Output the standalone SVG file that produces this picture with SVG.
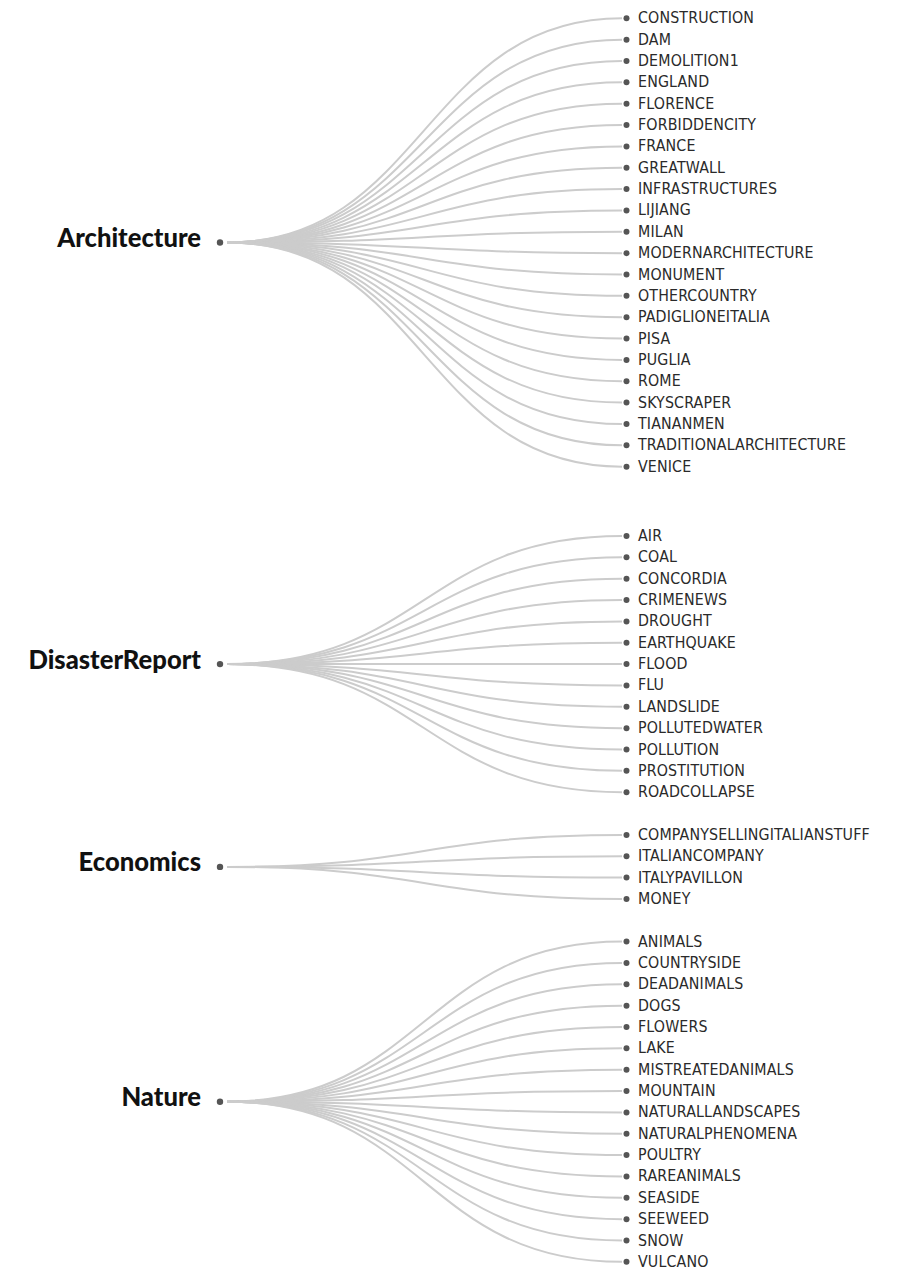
<svg xmlns="http://www.w3.org/2000/svg" width="898" height="1269" viewBox="0 0 898 1269">
<style>
  .link { fill: none; stroke: #cccccc; stroke-width: 2; }
  .dot { fill: #555555; }
  .root-label { font-family: Lato, "Open Sans", "Liberation Sans", sans-serif; font-weight: 900; font-size: 25.6px; fill: #111111; text-anchor: end; }
  .leaf-label { font-family: "DejaVu Sans Condensed", "Liberation Sans", sans-serif; font-size: 15.8px; fill: #2a2a2a; letter-spacing: 0.15px; }
</style>
<rect width="898" height="1269" fill="#ffffff"/>

<!-- connectors: cubic links from each category to its leaves -->
<g id="links">
  <!-- Architecture (root y 242.5) -->
  <path class="link" d="M227,242.5C424,242.5 424,18.3 622,18.3"/>
  <path class="link" d="M227,242.5C424,242.5 424,39.65 622,39.65"/>
  <path class="link" d="M227,242.5C424,242.5 424,61 622,61"/>
  <path class="link" d="M227,242.5C424,242.5 424,82.35 622,82.35"/>
  <path class="link" d="M227,242.5C424,242.5 424,103.7 622,103.7"/>
  <path class="link" d="M227,242.5C424,242.5 424,125.05 622,125.05"/>
  <path class="link" d="M227,242.5C424,242.5 424,146.4 622,146.4"/>
  <path class="link" d="M227,242.5C424,242.5 424,167.75 622,167.75"/>
  <path class="link" d="M227,242.5C424,242.5 424,189.1 622,189.1"/>
  <path class="link" d="M227,242.5C424,242.5 424,210.45 622,210.45"/>
  <path class="link" d="M227,242.5C424,242.5 424,231.8 622,231.8"/>
  <path class="link" d="M227,242.5C424,242.5 424,253.15 622,253.15"/>
  <path class="link" d="M227,242.5C424,242.5 424,274.5 622,274.5"/>
  <path class="link" d="M227,242.5C424,242.5 424,295.85 622,295.85"/>
  <path class="link" d="M227,242.5C424,242.5 424,317.2 622,317.2"/>
  <path class="link" d="M227,242.5C424,242.5 424,338.55 622,338.55"/>
  <path class="link" d="M227,242.5C424,242.5 424,359.9 622,359.9"/>
  <path class="link" d="M227,242.5C424,242.5 424,381.25 622,381.25"/>
  <path class="link" d="M227,242.5C424,242.5 424,402.6 622,402.6"/>
  <path class="link" d="M227,242.5C424,242.5 424,423.95 622,423.95"/>
  <path class="link" d="M227,242.5C424,242.5 424,445.3 622,445.3"/>
  <path class="link" d="M227,242.5C424,242.5 424,466.65 622,466.65"/>
  <!-- DisasterReport (root y 664.1) -->
  <path class="link" d="M227,664.1C424,664.1 424,536 622,536"/>
  <path class="link" d="M227,664.1C424,664.1 424,557.35 622,557.35"/>
  <path class="link" d="M227,664.1C424,664.1 424,578.7 622,578.7"/>
  <path class="link" d="M227,664.1C424,664.1 424,600.05 622,600.05"/>
  <path class="link" d="M227,664.1C424,664.1 424,621.4 622,621.4"/>
  <path class="link" d="M227,664.1C424,664.1 424,642.75 622,642.75"/>
  <path class="link" d="M227,664.1C424,664.1 424,664.1 622,664.1"/>
  <path class="link" d="M227,664.1C424,664.1 424,685.45 622,685.45"/>
  <path class="link" d="M227,664.1C424,664.1 424,706.8 622,706.8"/>
  <path class="link" d="M227,664.1C424,664.1 424,728.15 622,728.15"/>
  <path class="link" d="M227,664.1C424,664.1 424,749.5 622,749.5"/>
  <path class="link" d="M227,664.1C424,664.1 424,770.85 622,770.85"/>
  <path class="link" d="M227,664.1C424,664.1 424,792.2 622,792.2"/>
  <!-- Economics (root y 866.9) -->
  <path class="link" d="M227,866.9C424,866.9 424,834.9 622,834.9"/>
  <path class="link" d="M227,866.9C424,866.9 424,856.25 622,856.25"/>
  <path class="link" d="M227,866.9C424,866.9 424,877.6 622,877.6"/>
  <path class="link" d="M227,866.9C424,866.9 424,898.95 622,898.95"/>
  <!-- Nature (root y 1101.7) -->
  <path class="link" d="M227,1101.7C424,1101.7 424,941.6 622,941.6"/>
  <path class="link" d="M227,1101.7C424,1101.7 424,962.95 622,962.95"/>
  <path class="link" d="M227,1101.7C424,1101.7 424,984.3 622,984.3"/>
  <path class="link" d="M227,1101.7C424,1101.7 424,1005.65 622,1005.65"/>
  <path class="link" d="M227,1101.7C424,1101.7 424,1027 622,1027"/>
  <path class="link" d="M227,1101.7C424,1101.7 424,1048.35 622,1048.35"/>
  <path class="link" d="M227,1101.7C424,1101.7 424,1069.7 622,1069.7"/>
  <path class="link" d="M227,1101.7C424,1101.7 424,1091.05 622,1091.05"/>
  <path class="link" d="M227,1101.7C424,1101.7 424,1112.4 622,1112.4"/>
  <path class="link" d="M227,1101.7C424,1101.7 424,1133.75 622,1133.75"/>
  <path class="link" d="M227,1101.7C424,1101.7 424,1155.1 622,1155.1"/>
  <path class="link" d="M227,1101.7C424,1101.7 424,1176.45 622,1176.45"/>
  <path class="link" d="M227,1101.7C424,1101.7 424,1197.8 622,1197.8"/>
  <path class="link" d="M227,1101.7C424,1101.7 424,1219.15 622,1219.15"/>
  <path class="link" d="M227,1101.7C424,1101.7 424,1240.5 622,1240.5"/>
  <path class="link" d="M227,1101.7C424,1101.7 424,1261.85 622,1261.85"/>
</g>

<!-- category nodes -->
<g id="node-architecture"><circle class="dot" cx="220" cy="242.5" r="3.2"/><text class="root-label" x="201" y="247">Architecture</text></g>
<g id="node-disasterreport"><circle class="dot" cx="220" cy="664.1" r="3.2"/><text class="root-label" x="201" y="668.6">DisasterReport</text></g>
<g id="node-economics"><circle class="dot" cx="220" cy="866.9" r="3.2"/><text class="root-label" x="201" y="871.4">Economics</text></g>
<g id="node-nature"><circle class="dot" cx="220" cy="1101.7" r="3.2"/><text class="root-label" x="201" y="1106.2">Nature</text></g>

<!-- leaf nodes: Architecture -->
<g id="leaf-construction"><circle class="dot" cx="626.5" cy="18.3" r="3"/><text class="leaf-label" x="638" y="23.3">CONSTRUCTION</text></g>
<g id="leaf-dam"><circle class="dot" cx="626.5" cy="39.65" r="3"/><text class="leaf-label" x="638" y="44.65">DAM</text></g>
<g id="leaf-demolition1"><circle class="dot" cx="626.5" cy="61" r="3"/><text class="leaf-label" x="638" y="66">DEMOLITION1</text></g>
<g id="leaf-england"><circle class="dot" cx="626.5" cy="82.35" r="3"/><text class="leaf-label" x="638" y="87.35">ENGLAND</text></g>
<g id="leaf-florence"><circle class="dot" cx="626.5" cy="103.7" r="3"/><text class="leaf-label" x="638" y="108.7">FLORENCE</text></g>
<g id="leaf-forbiddencity"><circle class="dot" cx="626.5" cy="125.05" r="3"/><text class="leaf-label" x="638" y="130.05">FORBIDDENCITY</text></g>
<g id="leaf-france"><circle class="dot" cx="626.5" cy="146.4" r="3"/><text class="leaf-label" x="638" y="151.4">FRANCE</text></g>
<g id="leaf-greatwall"><circle class="dot" cx="626.5" cy="167.75" r="3"/><text class="leaf-label" x="638" y="172.75">GREATWALL</text></g>
<g id="leaf-infrastructures"><circle class="dot" cx="626.5" cy="189.1" r="3"/><text class="leaf-label" x="638" y="194.1">INFRASTRUCTURES</text></g>
<g id="leaf-lijiang"><circle class="dot" cx="626.5" cy="210.45" r="3"/><text class="leaf-label" x="638" y="215.45">LIJIANG</text></g>
<g id="leaf-milan"><circle class="dot" cx="626.5" cy="231.8" r="3"/><text class="leaf-label" x="638" y="236.8">MILAN</text></g>
<g id="leaf-modernarchitecture"><circle class="dot" cx="626.5" cy="253.15" r="3"/><text class="leaf-label" x="638" y="258.15">MODERNARCHITECTURE</text></g>
<g id="leaf-monument"><circle class="dot" cx="626.5" cy="274.5" r="3"/><text class="leaf-label" x="638" y="279.5">MONUMENT</text></g>
<g id="leaf-othercountry"><circle class="dot" cx="626.5" cy="295.85" r="3"/><text class="leaf-label" x="638" y="300.85">OTHERCOUNTRY</text></g>
<g id="leaf-padiglioneitalia"><circle class="dot" cx="626.5" cy="317.2" r="3"/><text class="leaf-label" x="638" y="322.2">PADIGLIONEITALIA</text></g>
<g id="leaf-pisa"><circle class="dot" cx="626.5" cy="338.55" r="3"/><text class="leaf-label" x="638" y="343.55">PISA</text></g>
<g id="leaf-puglia"><circle class="dot" cx="626.5" cy="359.9" r="3"/><text class="leaf-label" x="638" y="364.9">PUGLIA</text></g>
<g id="leaf-rome"><circle class="dot" cx="626.5" cy="381.25" r="3"/><text class="leaf-label" x="638" y="386.25">ROME</text></g>
<g id="leaf-skyscraper"><circle class="dot" cx="626.5" cy="402.6" r="3"/><text class="leaf-label" x="638" y="407.6">SKYSCRAPER</text></g>
<g id="leaf-tiananmen"><circle class="dot" cx="626.5" cy="423.95" r="3"/><text class="leaf-label" x="638" y="428.95">TIANANMEN</text></g>
<g id="leaf-traditionalarchitecture"><circle class="dot" cx="626.5" cy="445.3" r="3"/><text class="leaf-label" x="638" y="450.3">TRADITIONALARCHITECTURE</text></g>
<g id="leaf-venice"><circle class="dot" cx="626.5" cy="466.65" r="3"/><text class="leaf-label" x="638" y="471.65">VENICE</text></g>

<!-- leaf nodes: DisasterReport -->
<g id="leaf-air"><circle class="dot" cx="626.5" cy="536" r="3"/><text class="leaf-label" x="638" y="541">AIR</text></g>
<g id="leaf-coal"><circle class="dot" cx="626.5" cy="557.35" r="3"/><text class="leaf-label" x="638" y="562.35">COAL</text></g>
<g id="leaf-concordia"><circle class="dot" cx="626.5" cy="578.7" r="3"/><text class="leaf-label" x="638" y="583.7">CONCORDIA</text></g>
<g id="leaf-crimenews"><circle class="dot" cx="626.5" cy="600.05" r="3"/><text class="leaf-label" x="638" y="605.05">CRIMENEWS</text></g>
<g id="leaf-drought"><circle class="dot" cx="626.5" cy="621.4" r="3"/><text class="leaf-label" x="638" y="626.4">DROUGHT</text></g>
<g id="leaf-earthquake"><circle class="dot" cx="626.5" cy="642.75" r="3"/><text class="leaf-label" x="638" y="647.75">EARTHQUAKE</text></g>
<g id="leaf-flood"><circle class="dot" cx="626.5" cy="664.1" r="3"/><text class="leaf-label" x="638" y="669.1">FLOOD</text></g>
<g id="leaf-flu"><circle class="dot" cx="626.5" cy="685.45" r="3"/><text class="leaf-label" x="638" y="690.45">FLU</text></g>
<g id="leaf-landslide"><circle class="dot" cx="626.5" cy="706.8" r="3"/><text class="leaf-label" x="638" y="711.8">LANDSLIDE</text></g>
<g id="leaf-pollutedwater"><circle class="dot" cx="626.5" cy="728.15" r="3"/><text class="leaf-label" x="638" y="733.15">POLLUTEDWATER</text></g>
<g id="leaf-pollution"><circle class="dot" cx="626.5" cy="749.5" r="3"/><text class="leaf-label" x="638" y="754.5">POLLUTION</text></g>
<g id="leaf-prostitution"><circle class="dot" cx="626.5" cy="770.85" r="3"/><text class="leaf-label" x="638" y="775.85">PROSTITUTION</text></g>
<g id="leaf-roadcollapse"><circle class="dot" cx="626.5" cy="792.2" r="3"/><text class="leaf-label" x="638" y="797.2">ROADCOLLAPSE</text></g>

<!-- leaf nodes: Economics -->
<g id="leaf-companysellingitalianstuff"><circle class="dot" cx="626.5" cy="834.9" r="3"/><text class="leaf-label" x="638" y="839.9">COMPANYSELLINGITALIANSTUFF</text></g>
<g id="leaf-italiancompany"><circle class="dot" cx="626.5" cy="856.25" r="3"/><text class="leaf-label" x="638" y="861.25">ITALIANCOMPANY</text></g>
<g id="leaf-italypavillon"><circle class="dot" cx="626.5" cy="877.6" r="3"/><text class="leaf-label" x="638" y="882.6">ITALYPAVILLON</text></g>
<g id="leaf-money"><circle class="dot" cx="626.5" cy="898.95" r="3"/><text class="leaf-label" x="638" y="903.95">MONEY</text></g>

<!-- leaf nodes: Nature -->
<g id="leaf-animals"><circle class="dot" cx="626.5" cy="941.6" r="3"/><text class="leaf-label" x="638" y="946.6">ANIMALS</text></g>
<g id="leaf-countryside"><circle class="dot" cx="626.5" cy="962.95" r="3"/><text class="leaf-label" x="638" y="967.95">COUNTRYSIDE</text></g>
<g id="leaf-deadanimals"><circle class="dot" cx="626.5" cy="984.3" r="3"/><text class="leaf-label" x="638" y="989.3">DEADANIMALS</text></g>
<g id="leaf-dogs"><circle class="dot" cx="626.5" cy="1005.65" r="3"/><text class="leaf-label" x="638" y="1010.65">DOGS</text></g>
<g id="leaf-flowers"><circle class="dot" cx="626.5" cy="1027" r="3"/><text class="leaf-label" x="638" y="1032">FLOWERS</text></g>
<g id="leaf-lake"><circle class="dot" cx="626.5" cy="1048.35" r="3"/><text class="leaf-label" x="638" y="1053.35">LAKE</text></g>
<g id="leaf-mistreatedanimals"><circle class="dot" cx="626.5" cy="1069.7" r="3"/><text class="leaf-label" x="638" y="1074.7">MISTREATEDANIMALS</text></g>
<g id="leaf-mountain"><circle class="dot" cx="626.5" cy="1091.05" r="3"/><text class="leaf-label" x="638" y="1096.05">MOUNTAIN</text></g>
<g id="leaf-naturallandscapes"><circle class="dot" cx="626.5" cy="1112.4" r="3"/><text class="leaf-label" x="638" y="1117.4">NATURALLANDSCAPES</text></g>
<g id="leaf-naturalphenomena"><circle class="dot" cx="626.5" cy="1133.75" r="3"/><text class="leaf-label" x="638" y="1138.75">NATURALPHENOMENA</text></g>
<g id="leaf-poultry"><circle class="dot" cx="626.5" cy="1155.1" r="3"/><text class="leaf-label" x="638" y="1160.1">POULTRY</text></g>
<g id="leaf-rareanimals"><circle class="dot" cx="626.5" cy="1176.45" r="3"/><text class="leaf-label" x="638" y="1181.45">RAREANIMALS</text></g>
<g id="leaf-seaside"><circle class="dot" cx="626.5" cy="1197.8" r="3"/><text class="leaf-label" x="638" y="1202.8">SEASIDE</text></g>
<g id="leaf-seeweed"><circle class="dot" cx="626.5" cy="1219.15" r="3"/><text class="leaf-label" x="638" y="1224.15">SEEWEED</text></g>
<g id="leaf-snow"><circle class="dot" cx="626.5" cy="1240.5" r="3"/><text class="leaf-label" x="638" y="1245.5">SNOW</text></g>
<g id="leaf-vulcano"><circle class="dot" cx="626.5" cy="1261.85" r="3"/><text class="leaf-label" x="638" y="1266.85">VULCANO</text></g>
</svg>
